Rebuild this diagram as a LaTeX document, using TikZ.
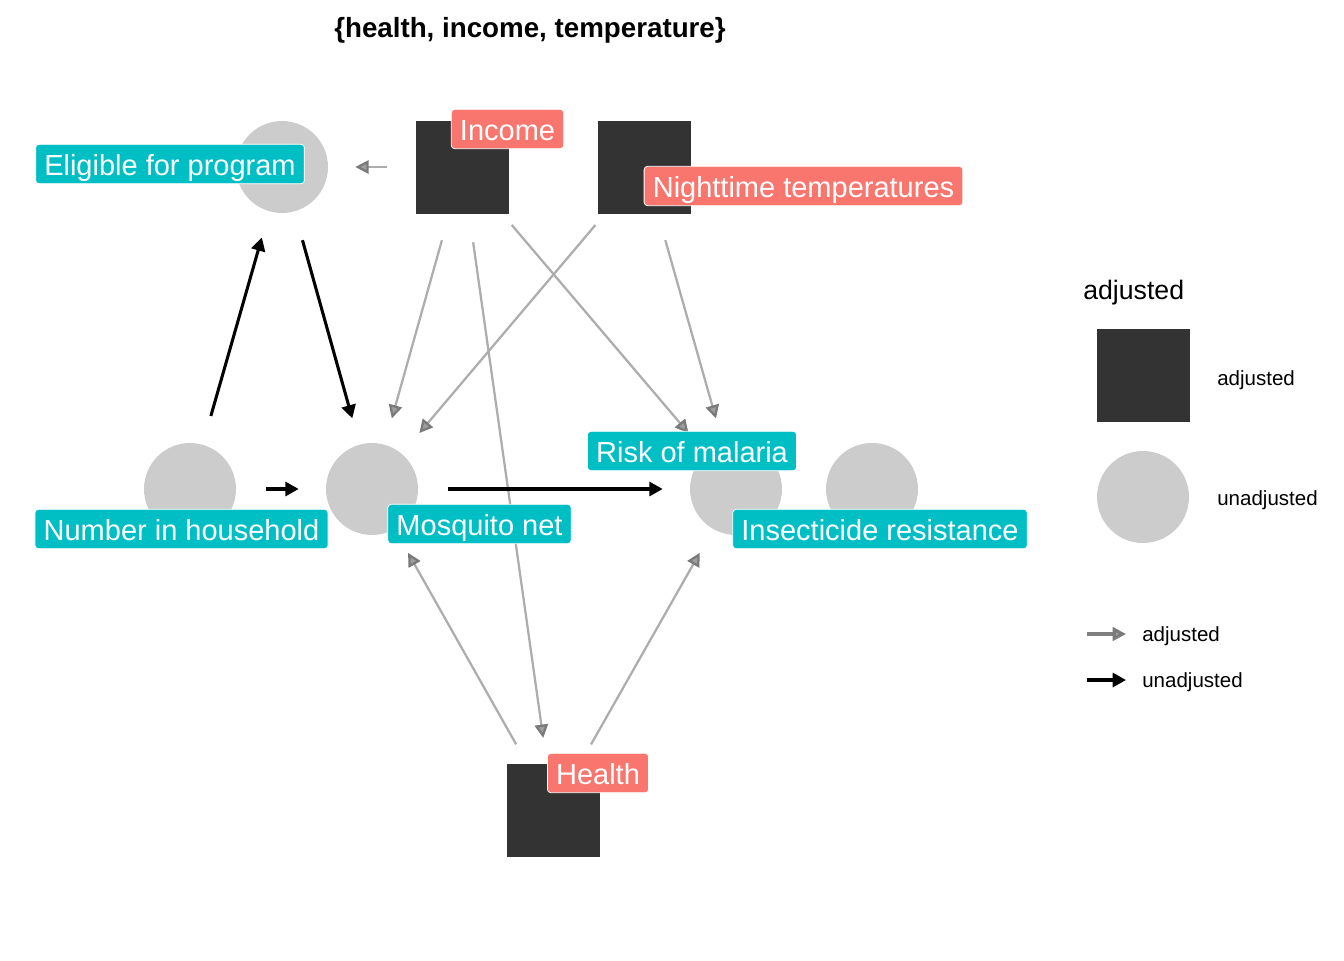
\documentclass[tikz,border=0pt]{standalone}
\usepackage{fontspec}
\setmainfont{Liberation Sans}
\usetikzlibrary{arrows.meta,positioning}
\definecolor{labteal}{HTML}{00BFC4}
\definecolor{labsalmon}{HTML}{F8766D}
\definecolor{adjfill}{HTML}{333333}
\definecolor{unadjfill}{HTML}{CCCCCC}
\tikzset{
  dag/.style={x=0.75pt,y=-0.75pt},
  adjnode/.style={rectangle,fill=adjfill,minimum size=69.75pt,inner sep=0pt},
  unadjnode/.style={circle,fill=unadjfill,minimum size=69pt,inner sep=0pt},
  varlabel/.style={rectangle,rounded corners=2.5pt,draw=white,line width=0.6pt,text=white,
    font=\fontsize{21.75pt}{26pt}\selectfont,inner xsep=6.5pt,inner ysep=4.6pt,
    text height=18.6pt,text depth=1.7pt},
  outlabel/.style={varlabel,fill=labteal},
  adjlabel/.style={varlabel,fill=labsalmon},
  adjedge/.style={-{Triangle[length=10pt,width=10pt,color=black!52,fill=black!38]},
    draw=black!32,line width=1.7pt,shorten <=57pt,shorten >=55pt},
  unadjedge/.style={-{Triangle[length=10pt,width=10.5pt]},
    draw=black,line width=2.3pt,shorten <=57pt,shorten >=55pt},
  legtext/.style={anchor=west,inner sep=0pt,font=\fontsize{15.4pt}{18pt}\selectfont},
}

\begin{document}
\begin{tikzpicture}[dag]
  \useasboundingbox (0,0) rectangle (1344,960);
  \node[font=\fontsize{20.8pt}{25pt}\selectfont\bfseries] (title) at (530,30) {\{health, income, temperature\}};

  % variables
  \node[unadjnode] (elig) at (282,167) {};
  \node[adjnode] (inc) at (462.5,167) {};
  \node[adjnode] (night) at (644.5,167) {};
  \node[unadjnode] (nhh) at (190,489) {};
  \node[unadjnode] (net) at (372,489) {};
  \node[unadjnode] (mal) at (736,489) {};
  \node[unadjnode] (res) at (872,489) {};
  \node[adjnode] (hlth) at (553.5,810.5) {};

  % edges
  \draw[adjedge] (inc.center) -- (elig.center);
  \draw[adjedge] (inc.center) -- (net.center);
  \draw[adjedge] (inc.center) -- (mal.center);
  \draw[adjedge] (inc.center) -- (hlth.center);
  \draw[adjedge] (night.center) -- (net.center);
  \draw[adjedge] (night.center) -- (mal.center);
  \draw[adjedge] (hlth.center) -- (net.center);
  \draw[adjedge] (hlth.center) -- (mal.center);
  \draw[unadjedge] (nhh.center) -- (net.center);
  \draw[unadjedge] (nhh.center) -- (elig.center);
  \draw[unadjedge] (elig.center) -- (net.center);
  \draw[unadjedge] (net.center) -- (mal.center);

  % labels
  \node[outlabel] (elig-lab) at (170,164) {Eligible for program};
  \node[adjlabel] (inc-lab) at (507.5,129) {Income};
  \node[adjlabel] (night-lab) at (803.5,186) {Nighttime temperatures};
  \node[outlabel] (nhh-lab) at (181.5,529) {Number in household};
  \node[outlabel] (net-lab) at (479.5,524) {Mosquito net};
  \node[outlabel] (mal-lab) at (692,451) {Risk of malaria};
  \node[outlabel] (res-lab) at (880,529) {Insecticide resistance};
  \node[adjlabel] (hlth-lab) at (598,773) {Health};

  % legend
  \node[anchor=west,inner sep=0pt,font=\fontsize{20pt}{24pt}\selectfont] (leg-title) at (1083,293) {adjusted};
  \node[adjnode] (leg-adj) at (1143.5,375) {};
  \node[unadjnode] (leg-unadj) at (1143,497) {};
  \node[legtext] (leg-adj-txt) at (1217,380) {adjusted};
  \node[legtext] (leg-unadj-txt) at (1217,500) {unadjusted};
  \coordinate (leg-a1) at (1087,634);
  \coordinate (leg-a2) at (1126,634);
  \coordinate (leg-u1) at (1087,680);
  \coordinate (leg-u2) at (1126,680);
  \draw[adjedge,draw=black!50,line width=2.3pt,shorten <=0pt,shorten >=0pt] (leg-a1) -- (leg-a2);
  \draw[unadjedge,shorten <=0pt,shorten >=0pt] (leg-u1) -- (leg-u2);
  \node[legtext] (leg-a-txt) at (1142,636) {adjusted};
  \node[legtext] (leg-u-txt) at (1142,682) {unadjusted};
\end{tikzpicture}
\end{document}
